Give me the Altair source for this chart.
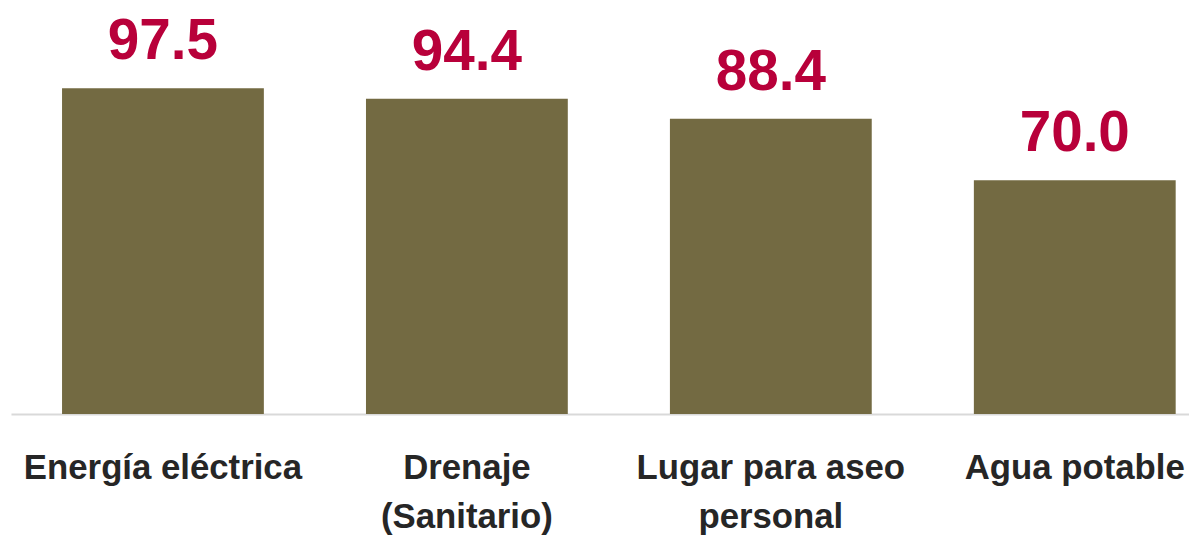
import altair as alt
import pandas as pd

categories = ["Energía eléctrica", "Drenaje (Sanitario)", "Lugar para aseo personal", "Agua potable"]
values = [97.5, 94.4, 88.4, 70.0]
value_labels = ["97.5", "94.4", "88.4", "70.0"]

df = pd.DataFrame({"cat": categories, "val": values, "lab": value_labels})

label_expr = (
    "datum.label == 'Drenaje (Sanitario)' ? ['Drenaje', '(Sanitario)'] : "
    "datum.label == 'Lugar para aseo personal' ? ['Lugar para aseo', 'personal'] : datum.label"
)

x = alt.X(
    "cat:N",
    sort=categories,
    title=None,
    scale=alt.Scale(range=[3, 1227], paddingInner=0.336, paddingOuter=0.168),
    axis=alt.Axis(
        labelAngle=0,
        labelExpr=label_expr,
        labelFont="Liberation Sans",
        labelFontSize=35,
        labelFontWeight="bold",
        labelColor="#262626",
        labelPadding=37,
        labelLineHeight=49,
        labelLimit=500,
        labelBaseline="top",
        ticks=False,
        domainColor="#d9d9d9",
        domainWidth=2,
        grid=False,
    ),
)
y = alt.Y("val:Q", scale=alt.Scale(domain=[0, 121]), axis=None)

bars = alt.Chart(df).mark_bar(color="#736a42").encode(x=x, y=y)
text = alt.Chart(df).mark_text(
    font="Liberation Sans", fontSize=57, fontWeight="bold", color="#b8003a",
    baseline="alphabetic", dy=-29,
).encode(x=alt.X("cat:N", sort=categories), y=y, text="lab:N")

chart = alt.layer(bars, text, view=alt.ViewBackground(strokeWidth=0, strokeOpacity=0)).properties(
    width=1189,
    height=407,
    autosize=alt.AutoSizeParams(type="none"),
    padding={"left": 0, "top": 0, "right": 0, "bottom": 123},
).configure_view(strokeWidth=0, strokeOpacity=0).configure(background="white")

chart.save("out.html", embed_options={"renderer": "svg", "actions": False})
